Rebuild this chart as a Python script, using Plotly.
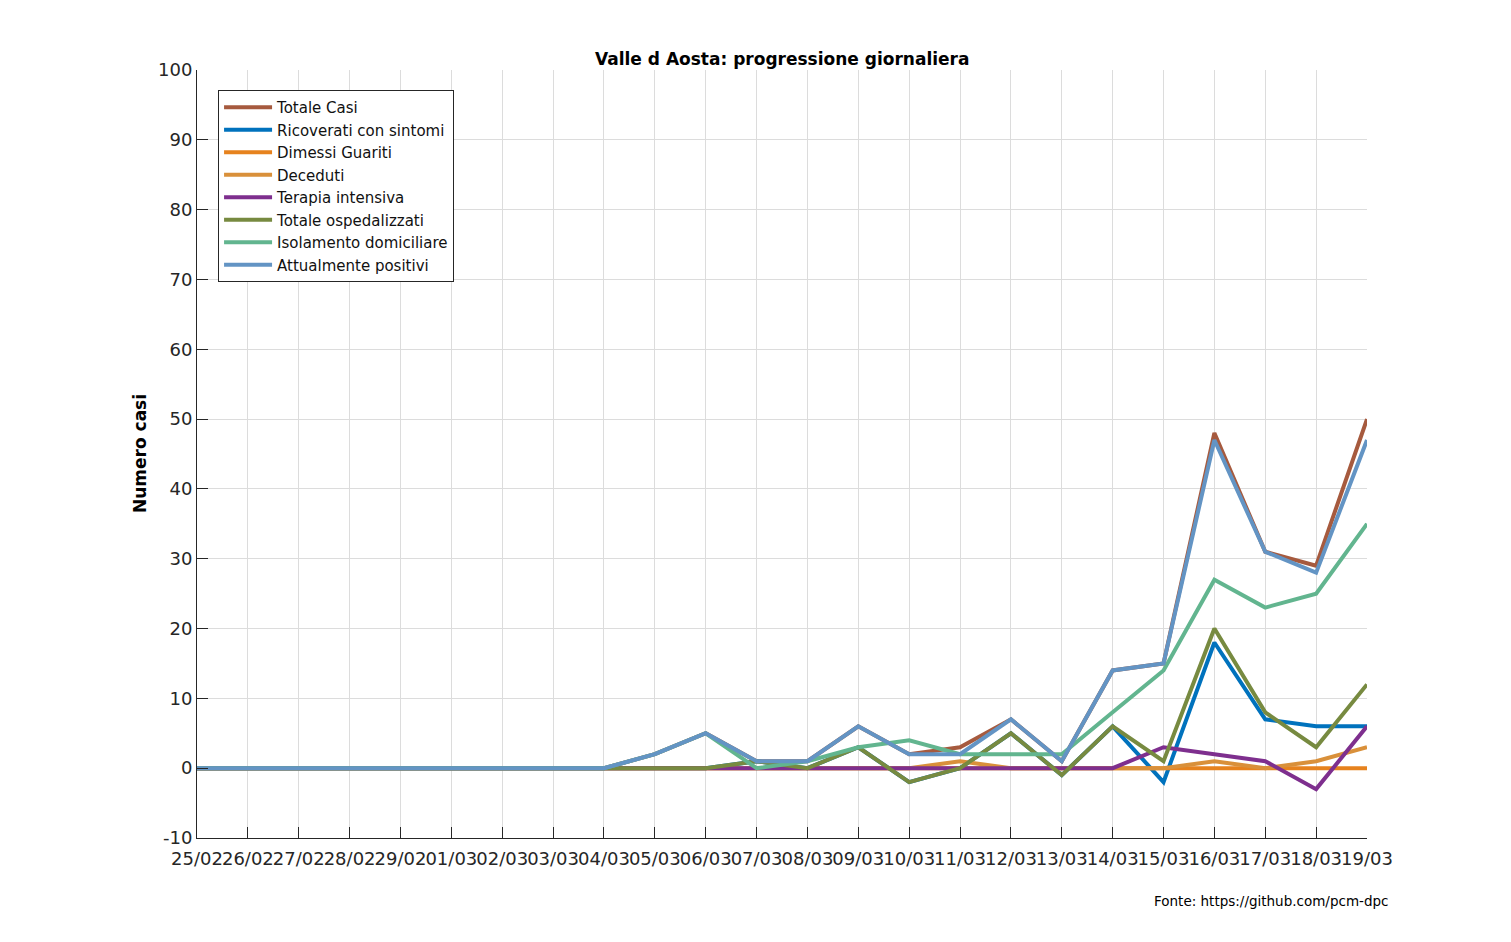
import plotly.graph_objects as go

# daily changes, Valle d'Aosta, 25/02 -> 19/03
dates = ["25/02", "26/02", "27/02", "28/02", "29/02", "01/03", "02/03", "03/03",
         "04/03", "05/03", "06/03", "07/03", "08/03", "09/03", "10/03", "11/03",
         "12/03", "13/03", "14/03", "15/03", "16/03", "17/03", "18/03", "19/03"]

totale_casi = [0, 0, 0, 0, 0, 0, 0, 0, 0, 2, 5, 1, 1, 6, 2, 3, 7, 1, 14, 15, 48, 31, 29, 50]
ricoverati = [0, 0, 0, 0, 0, 0, 0, 0, 0, 0, 0, 1, 0, 3, -2, 0, 5, -1, 6, -2, 18, 7, 6, 6]
dimessi = [0] * 24
deceduti = [0, 0, 0, 0, 0, 0, 0, 0, 0, 0, 0, 0, 0, 0, 0, 1, 0, 0, 0, 0, 1, 0, 1, 3]
terapia = [0, 0, 0, 0, 0, 0, 0, 0, 0, 0, 0, 0, 0, 0, 0, 0, 0, 0, 0, 3, 2, 1, -3, 6]
ospedalizzati = [0, 0, 0, 0, 0, 0, 0, 0, 0, 0, 0, 1, 0, 3, -2, 0, 5, -1, 6, 1, 20, 8, 3, 12]
isolamento = [0, 0, 0, 0, 0, 0, 0, 0, 0, 2, 5, 0, 1, 3, 4, 2, 2, 2, 8, 14, 27, 23, 25, 35]
positivi = [0, 0, 0, 0, 0, 0, 0, 0, 0, 2, 5, 1, 1, 6, 2, 2, 7, 1, 14, 15, 47, 31, 28, 47]

y_ticks = [-10, 0, 10, 20, 30, 40, 50, 60, 70, 80, 90, 100]

series = [
    ("Totale Casi", totale_casi, "#A65A3E"),
    ("Ricoverati con sintomi", ricoverati, "#0072BD"),
    ("Dimessi Guariti", dimessi, "#E6821E"),
    ("Deceduti", deceduti, "#D9903A"),
    ("Terapia intensiva", terapia, "#7E2F8E"),
    ("Totale ospedalizzati", ospedalizzati, "#778A40"),
    ("Isolamento domiciliare", isolamento, "#62B58F"),
    ("Attualmente positivi", positivi, "#6394C4"),
]

fig = go.Figure()
for name, vals, col in series:
    fig.add_trace(go.Scatter(x=dates, y=vals, mode="lines", name=name,
                             line=dict(color=col, width=4)))

font = "DejaVu Sans, Verdana, sans-serif"

fig.update_layout(
    width=1511, height=942,
    margin=dict(l=189, r=152, t=62, b=112),
    paper_bgcolor="white", plot_bgcolor="white",
    font=dict(family=font, color="#262626", size=18),
    showlegend=True,
    legend=dict(x=0.018, y=0.974, xanchor="left", yanchor="top",
                bgcolor="white", bordercolor="#262626", borderwidth=1,
                font=dict(size=15, color="#111"), tracegroupgap=0,
                itemwidth=48),
)
fig.update_xaxes(type="category", range=[0, 23], showgrid=True, gridcolor="#dcdcdc",
                 showline=True, linecolor="#262626", linewidth=1,
                 ticks="inside", ticklen=11, tickcolor="#262626",
                 tickangle=0, tickfont=dict(size=18), ticklabelstandoff=4)
fig.update_yaxes(range=[-10, 100], tickvals=y_ticks, ticktext=[str(v) for v in y_ticks],
                 showgrid=True, gridcolor="#dcdcdc",
                 zeroline=False, showline=True, linecolor="#262626", linewidth=1,
                 ticks="inside", ticklen=11, tickcolor="#262626",
                 tickfont=dict(size=18))

fig.add_annotation(text="<b>Valle d Aosta: progressione giornaliera</b>",
                   xref="paper", yref="paper", x=0.5, y=1.0, yshift=-1,
                   xanchor="center", yanchor="bottom", showarrow=False,
                   font=dict(size=17, color="black"))
fig.add_annotation(text="<b>Numero casi</b>", textangle=-90,
                   xref="paper", yref="paper", x=0, xshift=-57, y=0.5,
                   xanchor="center", yanchor="middle", showarrow=False,
                   font=dict(size=17, color="black"))
fig.add_annotation(text="Fonte: https://github.com/pcm-dpc",
                   xref="paper", yref="paper", x=1, xshift=23, y=0, yshift=-63,
                   xanchor="right", yanchor="middle", showarrow=False,
                   font=dict(size=13.5, color="black"))

fig.write_html("out.html")
